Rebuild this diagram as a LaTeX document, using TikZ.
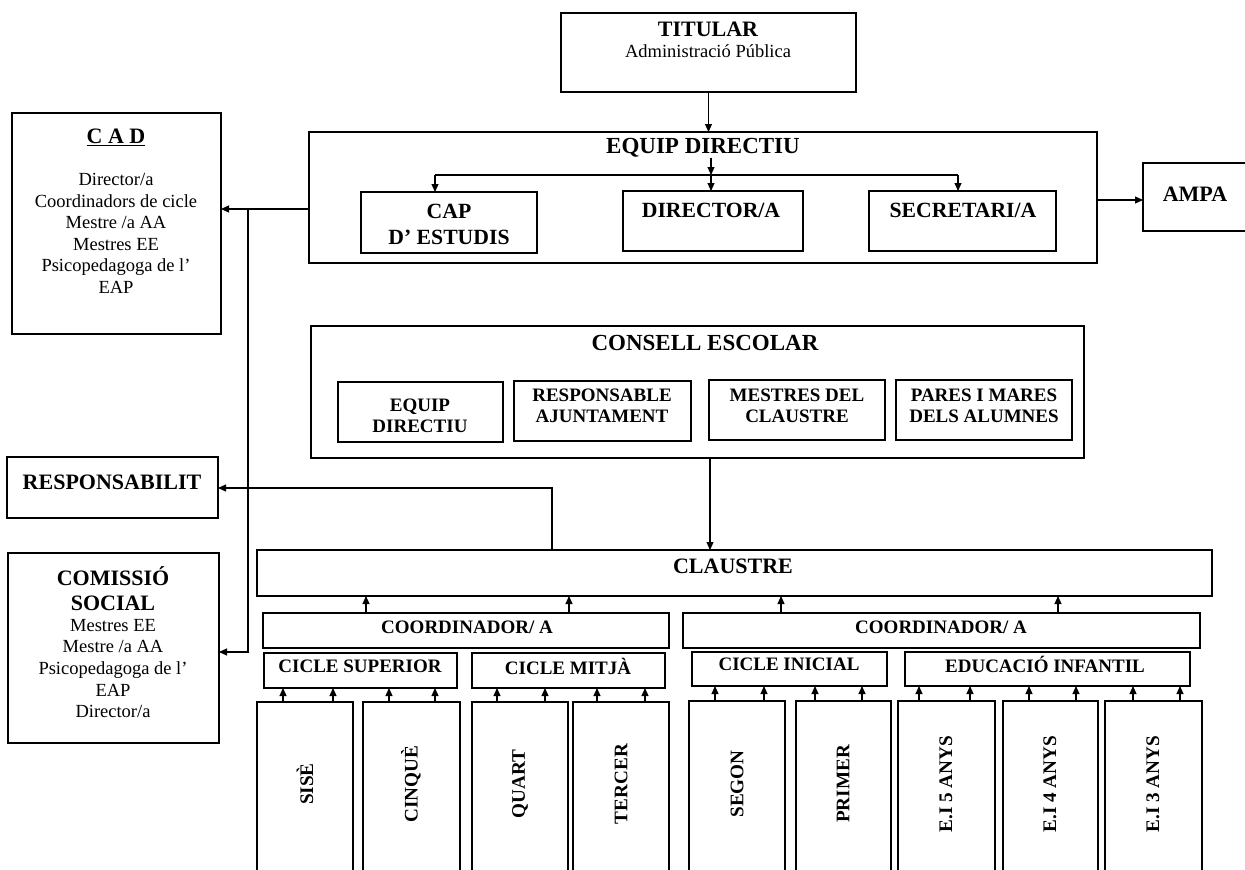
\documentclass[tikz,border=0pt]{standalone}
\usepackage{fontspec}
\setmainfont{Liberation Serif}
\usetikzlibrary{arrows.meta,fit}
\newcommand\bx[5]{\coordinate (#1-a) at (#2,#3); \coordinate (#1-b) at (#4,#5); \node[box, fit=(#1-a)(#1-b)] (#1) {};}
\begin{document}
\begin{tikzpicture}[x=1pt,y=-1pt,
  box/.style={draw, line width=1.4pt, inner sep=0pt, outer sep=0pt},
  hd/.style={font=\fontsize{22}{25}\selectfont\bfseries, inner sep=0pt, align=center},
  hdb/.style={font=\fontsize{23}{25}\selectfont\bfseries, inner sep=0pt, align=center},
  md/.style={font=\fontsize{21.7}{26}\selectfont\bfseries, inner sep=0pt, align=center},
  sm/.style={font=\fontsize{19}{21}\selectfont\bfseries, inner sep=0pt, align=center},
  rg/.style={font=\fontsize{18.5}{21.6}\selectfont, inner sep=0pt, align=center},
  vt/.style={font=\fontsize{19.2}{20}\selectfont\bfseries, inner sep=0pt, rotate=90},
  ln/.style={line width=1.1pt},
  arr/.style={line width=1.1pt, -{Triangle[length=8pt,width=7pt]}}]
\useasboundingbox (0,0) rectangle (1245,870);
\clip (0,0) rectangle (1245,870);

% ---------- boxes ----------
\bx{titular}{561}{13}{856}{92}
\bx{equip}{309}{132}{1097}{263}
\bx{cap}{361}{192}{537}{253}
\bx{dir}{623}{191}{803}{251}
\bx{sec}{869}{191}{1056}{251}
\bx{ampa}{1143}{163}{1250}{231}
\bx{cad}{12}{113}{221}{334}
\bx{resp}{7}{457}{218}{518}
\bx{com}{8}{553}{219}{743}
\bx{consell}{311}{326}{1084}{458}
\bx{ceq}{338}{382}{503}{442}
\bx{caj}{514}{381}{691}{441}
\bx{cme}{709}{380}{885}{440}
\bx{cpa}{896}{380}{1072}{440}
\bx{claustre}{257}{550}{1212}{596}
\bx{coordL}{263}{613}{669}{648}
\bx{coordR}{683}{613}{1200}{648}
\bx{csup}{264}{653}{457}{688}
\bx{cmit}{472}{653}{665}{688}
\bx{cini}{692}{652}{887}{686}
\bx{einf}{905}{652}{1190}{686}
\bx{sise}{257}{702}{353}{880}
\bx{cinque}{363}{702}{460}{880}
\bx{quart}{472}{702}{568}{880}
\bx{tercer}{573}{702}{669}{880}
\bx{segon}{689}{701}{785}{880}
\bx{primer}{796}{701}{891}{880}
\bx{eicinc}{898}{701}{995}{880}
\bx{eiquat}{1003}{701}{1098}{880}
\bx{eitres}{1105}{701}{1202}{880}

% ---------- texts ----------
\node[hd] (titulartxt) at (708,29) {TITULAR};
\node[rg, font=\fontsize{18.5}{20}\selectfont] (admintxt) at (708,51) {Administració Pública};
\node[hdb] (equiptxt) at (703,148) {EQUIP DIRECTIU};
\node[md] (captxt) at (449,224) {CAP\\D’ ESTUDIS};
\node[md] (dirtxt) at (711,210) {DIRECTOR/A};
\node[md] (sectxt) at (963,210) {SECRETARI/A};
\node[hd] (ampatxt) at (1195,194) {AMPA};
\node[hd] (cadtxt) at (116,137) {\underline{C A D}};
\node[rg, anchor=north] (cadbody) at (116,173) {Director/a\\Coordinadors de cicle\\Mestre /a AA\\Mestres EE\\Psicopedagoga de l’\\EAP};
\node[hd] (resptxt) at (112,482) {RESPONSABILIT};
\node[hd] (comtxt1) at (113,576) {COMISSIÓ};
\node[hd] (comtxt2) at (113,603) {SOCIAL};
\node[rg, anchor=north] (combody) at (113,619) {Mestres EE\\Mestre /a AA\\Psicopedagoga de l’\\EAP\\Director/a};
\node[hdb] (conselltxt) at (705,343) {CONSELL ESCOLAR};
\node[sm] (ceqtxt) at (420,416) {EQUIP\\DIRECTIU};
\node[sm] (cajtxt) at (602,406) {RESPONSABLE\\AJUNTAMENT};
\node[sm] (cmetxt) at (797,406) {MESTRES DEL\\CLAUSTRE};
\node[sm] (cpatxt) at (984,406) {PARES I MARES\\DELS ALUMNES};
\node[hd] (claustretxt) at (733,566) {CLAUSTRE};
\node[sm] (coordLtxt) at (467,627) {COORDINADOR/ A};
\node[sm] (coordRtxt) at (941,627) {COORDINADOR/ A};
\node[sm] (csuptxt) at (360,666) {CICLE SUPERIOR};
\node[sm] (cmittxt) at (568,666) {CICLE MITJÀ};
\node[sm] (cinitxt) at (789,664) {CICLE INICIAL};
\node[sm] (einftxt) at (1045,664) {EDUCACIÓ INFANTIL};
\node[vt] (sisetxt) at (305,784) {SISÈ};
\node[vt] (cinquetxt) at (411,784) {CINQUÈ};
\node[vt] (quarttxt) at (520,784) {QUART};
\node[vt] (tercertxt) at (621,784) {TERCER};
\node[vt] (segontxt) at (737,784) {SEGON};
\node[vt] (primertxt) at (843,784) {PRIMER};
\node[vt] (eicinctxt) at (946,784) {E.I 5 ANYS};
\node[vt] (eiquattxt) at (1050,784) {E.I 4 ANYS};
\node[vt] (eitrestxt) at (1153,784) {E.I 3 ANYS};

% ---------- connectors ----------
\draw[arr] (titular.south) -- (titular.south |- equip.north);
\coordinate (bc) at (711,175);
\coordinate (bl) at (435,175);
\coordinate (brr) at (958,175);
\draw[arr] (equiptxt.south -| bc) -- (bc);
\draw[ln] (bl) -- (brr);
\draw[arr] (bl) -- (bl |- cap.north);
\draw[arr] (bc) -- (bc |- dir.north);
\draw[arr] (brr) -- (brr |- sec.north);
\coordinate (ycad) at (248,209);
\draw[arr] (equip.west |- ycad) -- (cad.east |- ycad);
\coordinate (ycom) at (248,652);
\draw[arr] (ycad) -- (ycom) -- (com.east |- ycom);
\coordinate (yampa) at (0,200);
\draw[arr] (equip.east |- yampa) -- (ampa.west |- yampa);
\coordinate (xcon) at (710,0);
\draw[arr] (consell.south -| xcon) -- (claustre.north -| xcon);
\coordinate (rr) at (552,488);
\draw[arr] (claustre.north -| rr) -- (rr) -- (resp.east |- rr);
\foreach \b/\x in {coordL/366,coordL/569,coordR/781,coordR/1058}{
  \coordinate (t) at (\x,0);
  \draw[arr] (\b.north -| t) -- (claustre.south -| t);
}
\foreach \b/\u/\x in {sise/csup/283,sise/csup/333,cinque/csup/389,cinque/csup/435,
  quart/cmit/497,quart/cmit/545,tercer/cmit/597,tercer/cmit/645,
  segon/cini/715,segon/cini/764,primer/cini/815,primer/cini/862,
  eicinc/einf/919,eicinc/einf/970,eiquat/einf/1029,eiquat/einf/1076,
  eitres/einf/1133,eitres/einf/1180}{
  \coordinate (t) at (\x,0);
  \draw[arr] (\b.north -| t) -- (\u.south -| t);
}
\end{tikzpicture}
\end{document}
